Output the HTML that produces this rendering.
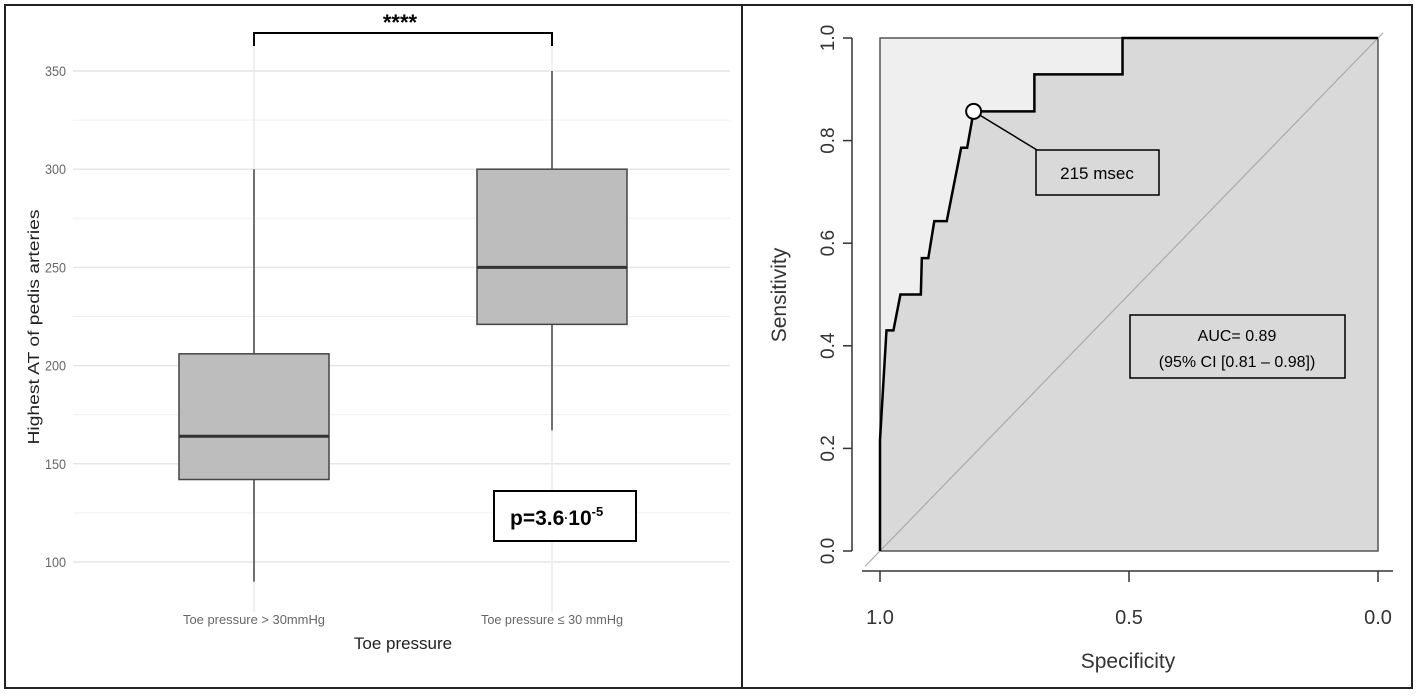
<!DOCTYPE html>
<html><head><meta charset="utf-8"><style>
html,body{margin:0;padding:0;background:#fff;}
svg{display:block;font-family:"Liberation Sans",sans-serif;}
</style></head><body>
<svg width="1417" height="698" viewBox="0 0 1417 698">
<rect x="5" y="5" width="1407" height="683" fill="#fff" stroke="#222" stroke-width="2"/>
<line x1="742" y1="5" x2="742" y2="688" stroke="#222" stroke-width="2"/>
<g id="left"></g>
<g id="right"></g>
</svg>
<script>
// ---- Boxplot data ----
const groups = ["Toe pressure > 30mmHg", "Toe pressure \u2264 30 mmHg"];
const whiskerLow = [90, 167];
const q1 = [142, 221];
const median = [164, 250];
const q3 = [206, 300];
const whiskerHigh = [300, 350];
const yTicks = [100, 150, 200, 250, 300, 350];

// ---- ROC data ----
const specificity = [1, 1, 0.987, 0.973, 0.959, 0.918, 0.916, 0.903, 0.891, 0.866, 0.837, 0.825, 0.812, 0.69, 0.69, 0.513, 0.513, 0];
const sensitivity = [0, 0.216, 0.43, 0.43, 0.5, 0.5, 0.571, 0.571, 0.643, 0.643, 0.786, 0.786, 0.857, 0.857, 0.929, 0.929, 1, 1];
const rocTicks = [0, 0.2, 0.4, 0.6, 0.8, 1.0];
const specTicks = [1.0, 0.5, 0.0];
const cutoff = {spec: 0.812, sens: 0.857, label: "215 msec"};

const NS = "http://www.w3.org/2000/svg";
function mk(parent, tag, attrs, text) {
  const e = document.createElementNS(NS, tag);
  for (const k in attrs) e.setAttribute(k, attrs[k]);
  if (text !== undefined) e.textContent = text;
  parent.appendChild(e);
  return e;
}

// ===== Left panel =====
const L = document.getElementById('left');
const yS = v => 562 - (v - 100) * (491 / 250);
const xS = i => 254 + i * 298;
for (let v = 75; v <= 362; v += 25) {
  if (v < 80) continue;
  const g = mk(L, 'line', {x1: 73, x2: 730, y1: yS(v), y2: yS(v), stroke: v % 50 === 0 ? '#e6e6e6' : '#f0f0f0', 'stroke-width': v % 50 === 0 ? 1.5 : 1});
  
  
}
groups.forEach((g, i) => {
  const gl = mk(L, 'line', {x1: xS(i), x2: xS(i), y1: 46, y2: 612, stroke: '#ececec', 'stroke-width': 1.5});
  
  
});
yTicks.forEach(v => {
  const t = mk(L, 'text', {x: 66, y: yS(v) + 5, 'text-anchor': 'end', 'font-size': 14, fill: '#666', textLength: 21, lengthAdjust: 'spacingAndGlyphs'}, v);
  
  
});
groups.forEach((g, i) => {
  const cx = xS(i), hw = 75;
  const w = mk(L, 'line', {x1: cx, x2: cx, y1: yS(whiskerLow[i]), y2: yS(whiskerHigh[i]), stroke: '#444', 'stroke-width': 1.5});
  
  
  const b = mk(L, 'rect', {x: cx - hw, y: yS(q3[i]), width: 2 * hw, height: yS(q1[i]) - yS(q3[i]), fill: '#bdbdbd', stroke: '#444', 'stroke-width': 1.5});
  
  
  const m = mk(L, 'line', {x1: cx - hw, x2: cx + hw, y1: yS(median[i]), y2: yS(median[i]), stroke: '#333', 'stroke-width': 3});
  
  
  const t = mk(L, 'text', {x: cx, y: 624, 'text-anchor': 'middle', 'font-size': 13, fill: '#666', textLength: 142, lengthAdjust: 'spacingAndGlyphs'}, g);
  
  
});
const br = mk(L, 'path', {d: `M${xS(0)},46 V33 H${xS(1)} V46`, fill: 'none', stroke: '#000', 'stroke-width': 2});


const st = mk(L, 'text', {x: 400, y: 30, 'text-anchor': 'middle', 'font-size': 22, 'font-weight': 'bold'}, '****');


const pb = mk(L, 'rect', {x: 494, y: 491, width: 142, height: 50, fill: '#fff', stroke: '#000', 'stroke-width': 2});


const pt = mk(L, 'text', {x: 510, y: 525, 'font-size': 21, 'font-weight': 'bold'});


pt.innerHTML = 'p=3.6<tspan font-size="12" dy="-3">·</tspan><tspan dy="3">10</tspan><tspan font-size="13" dy="-9">-5</tspan>';
const xt = mk(L, 'text', {x: 403, y: 649, 'text-anchor': 'middle', 'font-size': 17, fill: '#222'}, 'Toe pressure');


const yt = mk(L, 'text', {x: 0, y: 0, 'text-anchor': 'middle', 'font-size': 16, fill: '#222', textLength: 235, lengthAdjust: 'spacingAndGlyphs', transform: 'translate(39,327) rotate(-90)'}, 'Highest AT of pedis arteries');



// ===== Right panel =====
const R = document.getElementById('right');
const rx = s => 880 + (1 - s) * 498;
const ry = v => 551 - v * 513;
const bg = mk(R, 'rect', {x: rx(1), y: ry(1), width: rx(0) - rx(1), height: ry(0) - ry(1), fill: '#efefef'});


let d = '';
specificity.forEach((s, i) => { d += (i ? 'L' : 'M') + rx(s) + ',' + ry(sensitivity[i]) + ' '; });
const area = d + `L${rx(0)},${ry(0)} L${rx(1)},${ry(0)} Z`;
const ar = mk(R, 'path', {d: area, fill: '#d9d9d9'});


const fr = mk(R, 'rect', {x: rx(1), y: ry(1), width: rx(0) - rx(1), height: ry(0) - ry(1), fill: 'none', stroke: '#555', 'stroke-width': 1.5});


const dg = mk(R, 'line', {x1: rx(1.03), y1: ry(-0.03), x2: rx(-0.01), y2: ry(1.01), stroke: '#aaa', 'stroke-width': 1.2});


const rc = mk(R, 'path', {d: d, fill: 'none', stroke: '#000', 'stroke-width': 2.5});


const cx = rx(cutoff.spec), cy = ry(cutoff.sens);
const ll = mk(R, 'line', {x1: cx, y1: cy, x2: 1037, y2: 150, stroke: '#000', 'stroke-width': 1.5});


const cc = mk(R, 'circle', {cx: cx, cy: cy, r: 7.5, fill: '#fff', stroke: '#000', 'stroke-width': 2});


const lb = mk(R, 'rect', {x: 1036, y: 150, width: 123, height: 45, fill: '#d9d9d9', stroke: '#000', 'stroke-width': 1.5});


const lt = mk(R, 'text', {x: 1097, y: 179, 'text-anchor': 'middle', 'font-size': 17}, cutoff.label);


const ab = mk(R, 'rect', {x: 1130, y: 315, width: 215, height: 63, fill: '#d9d9d9', stroke: '#000', 'stroke-width': 1.5});


const a1 = mk(R, 'text', {x: 1237, y: 341, 'text-anchor': 'middle', 'font-size': 16}, 'AUC= 0.89');


const a2 = mk(R, 'text', {x: 1237, y: 367, 'text-anchor': 'middle', 'font-size': 16}, '(95% CI [0.81 \u2013 0.98])');


const ya = mk(R, 'line', {x1: 852, y1: ry(1), x2: 852, y2: ry(0), stroke: '#333', 'stroke-width': 1.5});


rocTicks.forEach(v => {
  const tk = mk(R, 'line', {x1: 843, x2: 852, y1: ry(v), y2: ry(v), stroke: '#333', 'stroke-width': 1.5});
  
  
  const t = mk(R, 'text', {x: 0, y: 0, 'text-anchor': 'middle', 'font-size': 19, fill: '#333', transform: `translate(834,${ry(v)}) rotate(-90)`}, v.toFixed(1));
  
  
});
const xa = mk(R, 'line', {x1: 862, y1: 571, x2: 1393, y2: 571, stroke: '#333', 'stroke-width': 1.5});


specTicks.forEach(s => {
  const tk = mk(R, 'line', {x1: rx(s), x2: rx(s), y1: 571, y2: 582, stroke: '#333', 'stroke-width': 1.5});
  
  
  const t = mk(R, 'text', {x: rx(s), y: 624, 'text-anchor': 'middle', 'font-size': 20, fill: '#333'}, s.toFixed(1));
  
  
});
const rxT = mk(R, 'text', {x: 1128, y: 668, 'text-anchor': 'middle', 'font-size': 21, fill: '#333'}, 'Specificity');


const ryT = mk(R, 'text', {x: 0, y: 0, 'text-anchor': 'middle', 'font-size': 21, fill: '#333', transform: 'translate(786,295) rotate(-90)'}, 'Sensitivity');


</script>
</body></html>
